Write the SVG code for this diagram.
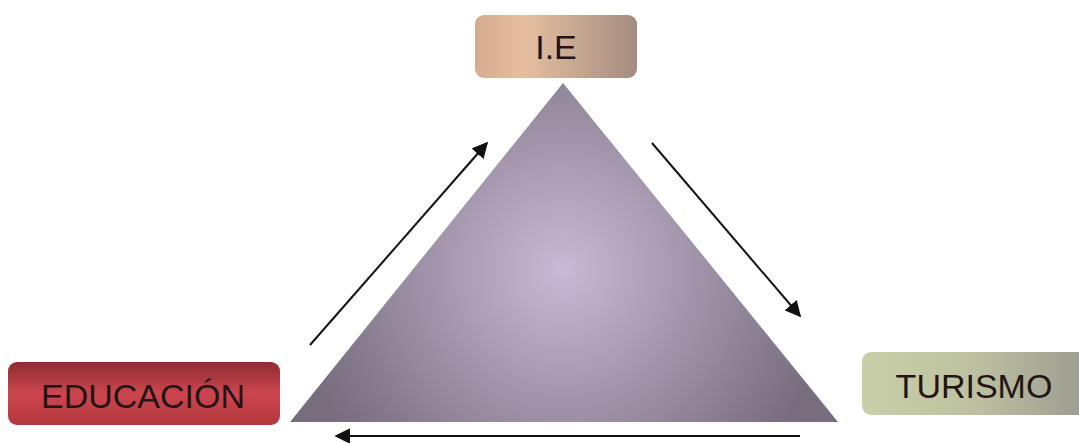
<svg xmlns="http://www.w3.org/2000/svg" width="1079" height="443" viewBox="0 0 1079 443">
<style>
.lbl{font-family:"Liberation Sans",Arial,sans-serif;font-size:34px;fill:#231515;text-anchor:middle}
.con{stroke:#111;stroke-width:2;fill:none;marker-end:url(#ah)}
</style>
<defs>
<marker id="ah" viewBox="0 0 10 10" refX="9" refY="5" markerWidth="8" markerHeight="8" markerUnits="strokeWidth" orient="auto">
<path d="M0,0 L10,5 L0,10 Z" fill="#111"/>
</marker>
<radialGradient id="tri" cx="563" cy="270" r="270" gradientUnits="userSpaceOnUse">
<stop offset="0" stop-color="#c8b9d4"/>
<stop offset="0.4" stop-color="#a89bb2"/>
<stop offset="1" stop-color="#776d7d"/>
</radialGradient>
<linearGradient id="gie" x1="0" y1="0" x2="1" y2="0">
<stop offset="0" stop-color="#d4ab8e"/>
<stop offset="0.3" stop-color="#e6bf9f"/>
<stop offset="1" stop-color="#a38c80"/>
</linearGradient>
<linearGradient id="ged" x1="0" y1="0" x2="0" y2="1">
<stop offset="0" stop-color="#8e2c33"/>
<stop offset="0.5" stop-color="#cc464e"/>
<stop offset="1" stop-color="#b3373e"/>
</linearGradient>
<linearGradient id="gtu" x1="0" y1="0" x2="1" y2="0">
<stop offset="0" stop-color="#c9d0a8"/>
<stop offset="0.5" stop-color="#bcc0a0"/>
<stop offset="1" stop-color="#9a9a90"/>
</linearGradient>
</defs>
<rect width="1079" height="443" fill="#fff"/>
<g id="triangle">
<polygon points="563,83 838,422 290,422" fill="url(#tri)"/>
</g>
<g id="node-ie">
<rect x="475" y="15" width="162" height="63" rx="9" fill="url(#gie)"/>
<text class="lbl" x="556" y="59">I.E</text>
</g>
<g id="node-educacion">
<rect x="8" y="362" width="272" height="63" rx="9" fill="url(#ged)"/>
<text class="lbl" x="143" y="408">EDUCACIÓN</text>
</g>
<g id="node-turismo">
<rect x="862" y="352" width="230" height="63" rx="9" fill="url(#gtu)"/>
<text class="lbl" x="974" y="398">TURISMO</text>
</g>
<g id="connectors">
<line class="con" x1="310" y1="345" x2="487" y2="143"/>
<line class="con" x1="652" y1="143" x2="800" y2="316"/>
<line class="con" x1="800" y1="436" x2="336" y2="436"/>
</g>
</svg>
